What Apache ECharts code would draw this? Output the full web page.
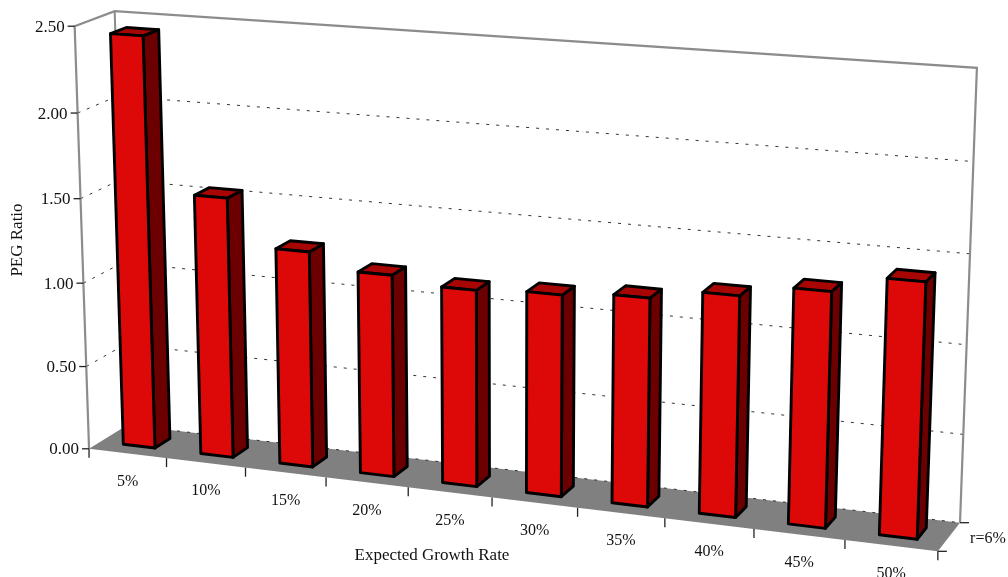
<!DOCTYPE html>
<html>
<head>
<meta charset="utf-8">
<script src="https://cdn.jsdelivr.net/npm/echarts@6/dist/echarts.min.js"></script>
<style>
  html, body { margin: 0; padding: 0; background: #ffffff; }
  #chart { width: 1008px; height: 577px; }
</style>
</head>
<body>
<div id="chart"></div>
<script>
// ---- data ----
const categories = ['5%', '10%', '15%', '20%', '25%', '30%', '35%', '40%', '45%', '50%'];
const pegRatio = [2.44, 1.54, 1.27, 1.18, 1.14, 1.16, 1.19, 1.25, 1.32, 1.42];
const valueTicks = [0, 0.5, 1, 1.5, 2, 2.5];
const valueTickLabels = ['0.00', '0.50', '1.00', '1.50', '2.00', '2.50'];
const seriesName = 'r=6%';
const xAxisTitle = 'Expected Growth Rate';
const yAxisTitle = 'PEG Ratio';

// ---- 3D box layout ----
// Box space: u = position along categories (0..1), h = value height (0..1), w = depth (0 front .. 1 back).
// The camera is calibrated from where the box edges and axis ticks sit on screen.
const CAMERA_ANCHORS = [
  [0, 0, 0, 89, 447], [0, 1, 0, 74, 26], [0, 1, 1, 116, 11], [0, 0, 1, 126, 428],
  [1, 1, 1, 977, 68], [1, 0, 1, 960, 522], [1, 0, 0, 938, 553],
  [0.1, 0, 0, 167.7, 456.8], [0.2, 0, 0, 245, 466.5], [0.3, 0, 0, 327.7, 476.8],
  [0.4, 0, 0, 407.7, 486.8], [0.5, 0, 0, 492.7, 497.4], [0.6, 0, 0, 578.3, 508.1],
  [0.7, 0, 0, 663.3, 518.7], [0.8, 0, 0, 754.3, 530.1], [0.9, 0, 0, 844.3, 541.3],
  [0, 0.2, 0, 87, 367], [0, 0.4, 0, 83, 285], [0, 0.6, 0, 80, 197], [0, 0.8, 0, 77, 114],
  [1, 0.2, 1, 963.3, 433], [1, 0.4, 1, 966.7, 343], [1, 0.6, 1, 970, 253], [1, 0.8, 1, 973.4, 163]
];
const BAR_HALF = 0.205;     // half bar width, share of a category band
const BAR_DEPTH = [0.3, 0.7];

const FONT_AXIS = '17px "Liberation Serif", "Times New Roman", serif';
const FONT_CAT = '16px "Liberation Serif", "Times New Roman", serif';
const TEXT_COLOR = '#111111';
const EDGE_COLOR = '#8c8c8c';
const FLOOR_COLOR = '#808080';
const GRID_COLOR = '#333333';
const FACE_FRONT = '#dd0808';
const FACE_TOP = '#a80505';
const FACE_SIDE = '#6c0000';

// Least-squares fit of a 3x4 projective camera (last entry fixed to 1).
function fitCamera(pairs) {
  const n = 11;
  const M = Array.from({ length: n }, () => new Array(n).fill(0));
  const r = new Array(n).fill(0);
  const add = (row, rhs) => {
    for (let i = 0; i < n; i++) {
      r[i] += row[i] * rhs;
      for (let j = 0; j < n; j++) M[i][j] += row[i] * row[j];
    }
  };
  pairs.forEach(([X, Y, Z, x, y]) => {
    const sx = x / 1000, sy = y / 1000;
    add([X, Y, Z, 1, 0, 0, 0, 0, -sx * X, -sx * Y, -sx * Z], sx);
    add([0, 0, 0, 0, X, Y, Z, 1, -sy * X, -sy * Y, -sy * Z], sy);
  });
  for (let c = 0; c < n; c++) {
    let piv = c;
    for (let k = c + 1; k < n; k++) if (Math.abs(M[k][c]) > Math.abs(M[piv][c])) piv = k;
    [M[c], M[piv]] = [M[piv], M[c]];
    [r[c], r[piv]] = [r[piv], r[c]];
    for (let k = c + 1; k < n; k++) {
      const f = M[k][c] / M[c][c];
      for (let j = c; j < n; j++) M[k][j] -= f * M[c][j];
      r[k] -= f * r[c];
    }
  }
  const p = new Array(n).fill(0);
  for (let c = n - 1; c >= 0; c--) {
    let s = r[c];
    for (let j = c + 1; j < n; j++) s -= M[c][j] * p[j];
    p[c] = s / M[c][c];
  }
  return p;
}
const CAM = fitCamera(CAMERA_ANCHORS);
function project(u, h, w) {
  const p = CAM;
  const d = p[8] * u + p[9] * h + p[10] * w + 1;
  return [
    1000 * (p[0] * u + p[1] * h + p[2] * w + p[3]) / d,
    1000 * (p[4] * u + p[5] * h + p[6] * w + p[7]) / d
  ];
}

// Convert a grid pixel (from the cartesian axes) into box space u/h.
function toBox(cs, pt) {
  return [(pt[0] - cs.x) / cs.width, (cs.y + cs.height - pt[1]) / cs.height];
}

function poly(points, fill, stroke, lw) {
  return {
    type: 'polygon',
    shape: { points },
    style: { fill, stroke: stroke || null, lineWidth: lw || 0, lineJoin: 'round' }
  };
}
function line(a, b, stroke, lw, dash) {
  return {
    type: 'line',
    shape: { x1: a[0], y1: a[1], x2: b[0], y2: b[1] },
    style: { stroke, lineWidth: lw, lineDash: dash || null, lineCap: 'butt' }
  };
}
function text(str, x, y, font, align, vAlign, rotation) {
  return {
    type: 'text',
    x, y, rotation: rotation || 0,
    style: { text: str, x: 0, y: 0, font, fill: TEXT_COLOR, align, verticalAlign: vAlign }
  };
}

// Walls, floor, gridlines, ticks and axis labels.
function renderFrame(params, api) {
  const cs = params.coordSys;
  const bw = api.size([1, 0])[0];
  const children = [];
  const A = project(0, 0, 0), B = project(0, 1, 0), C = project(0, 1, 1), D = project(0, 0, 1);
  const E = project(1, 1, 1), F = project(1, 0, 1), G = project(1, 0, 0);

  children.push(poly([A, D, F, G], FLOOR_COLOR));

  // gridlines on the side wall and back wall
  valueTicks.forEach((t) => {
    const h = toBox(cs, api.coord([0, t]))[1];
    if (h >= 0.999) return;
    if (h > 0.001) children.push(line(project(0, h, 0), project(0, h, 1), GRID_COLOR, 1, [3, 7]));
    children.push(line(project(0, h, 1), project(1, h, 1), GRID_COLOR, 1, [3, 7]));
  });

  // wall edges
  children.push({
    type: 'polyline',
    shape: { points: [A, B, C, E, F] },
    style: { stroke: EDGE_COLOR, lineWidth: 2.2, fill: null, lineJoin: 'miter' }
  });
  children.push(line(C, D, EDGE_COLOR, 2));

  // value axis ticks and labels
  valueTicks.forEach((t, k) => {
    const h = toBox(cs, api.coord([0, t]))[1];
    const p = project(0, h, 0);
    children.push(line([p[0] - 7, p[1]], p, '#222', 1.3));
    children.push(text(valueTickLabels[k], p[0] - 10, p[1] + 1, FONT_AXIS, 'right', 'middle'));
  });

  // category ticks and labels
  for (let i = 0; i <= categories.length; i++) {
    const edgeX = i < categories.length
      ? api.coord([i, 0])[0] - bw / 2
      : api.coord([i - 1, 0])[0] + bw / 2;
    const u = (edgeX - cs.x) / cs.width;
    const p = project(u, 0, 0);
    children.push(line(p, [p[0], p[1] + 9], '#222', 1.3));
  }
  categories.forEach((c, i) => {
    const u = toBox(cs, api.coord([i, 0]))[0];
    const p = project(u, 0, 0);
    children.push(text(c, p[0], p[1] + 28, FONT_CAT, 'center', 'middle'));
  });

  // depth axis
  children.push(line(F, [F[0] + 9, F[1]], '#222', 1.3));
  children.push(line(G, [G[0] + 9, G[1]], '#222', 1.3));
  const M = project(1, 0, 0.5);
  children.push(text(seriesName, M[0] + 21, M[1] + 2, FONT_CAT, 'left', 'middle'));

  return { type: 'group', children };
}

// One 3D column per category: front, right side and top faces.
function renderBar(params, api) {
  const cs = params.coordSys;
  const bw = api.size([1, 0])[0];
  const i = api.value(0), v = api.value(1);
  const base = api.coord([i, 0]);
  const top = api.coord([i, v]);
  const u0 = (base[0] - BAR_HALF * bw - cs.x) / cs.width;
  const u1 = (base[0] + BAR_HALF * bw - cs.x) / cs.width;
  const h0 = toBox(cs, base)[1];
  const h1 = toBox(cs, top)[1];
  const [z0, z1] = BAR_DEPTH;
  const lw = 2.9;
  return {
    type: 'group',
    children: [
      poly([project(u1, h0, z0), project(u1, h0, z1), project(u1, h1, z1), project(u1, h1, z0)], FACE_SIDE, '#000', lw),
      poly([project(u0, h1, z0), project(u1, h1, z0), project(u1, h1, z1), project(u0, h1, z1)], FACE_TOP, '#000', lw),
      poly([project(u0, h0, z0), project(u1, h0, z0), project(u1, h1, z0), project(u0, h1, z0)], FACE_FRONT, '#000', lw)
    ]
  };
}

const chart = echarts.init(document.getElementById('chart'), null, { renderer: 'canvas' });
chart.setOption({
  backgroundColor: '#ffffff',
  animation: false,
  grid: { left: 0, right: 0, top: 0, bottom: 0 },
  xAxis: { type: 'category', data: categories, show: false },
  yAxis: { type: 'value', min: 0, max: 2.5, interval: 0.5, show: false },
  graphic: [
    { type: 'text', x: 18, y: 240, rotation: Math.PI / 2,
      style: { text: yAxisTitle, font: FONT_AXIS, fill: TEXT_COLOR, align: 'center', verticalAlign: 'middle' } },
    { type: 'text', x: 432, y: 556,
      style: { text: xAxisTitle, font: FONT_AXIS, fill: TEXT_COLOR, align: 'center', verticalAlign: 'middle' } }
  ],
  series: [
    {
      type: 'custom',
      z: 1,
      coordinateSystem: 'cartesian2d',
      renderItem: renderFrame,
      data: [[0, 0]],
      silent: true
    },
    {
      type: 'custom',
      name: seriesName,
      z: 2,
      coordinateSystem: 'cartesian2d',
      renderItem: renderBar,
      data: pegRatio.map((v, i) => [i, v])
    }
  ]
});
</script>
</body>
</html>
